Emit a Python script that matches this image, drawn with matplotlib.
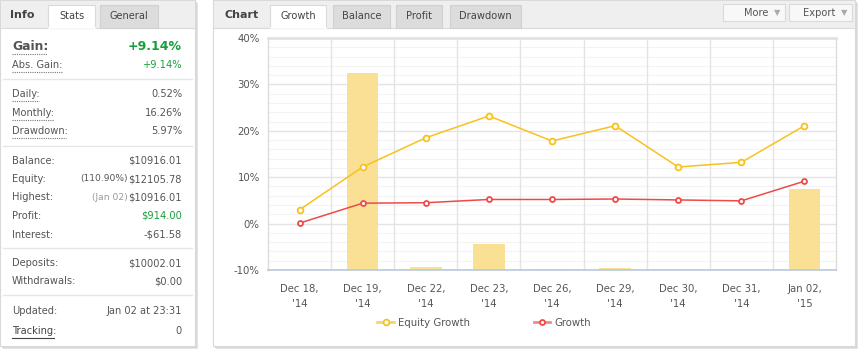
import matplotlib
matplotlib.use("Agg")
import matplotlib.pyplot as plt
from matplotlib.patches import Rectangle
from matplotlib.lines import Line2D
import numpy as np

plt.rcParams['font.family'] = ['DejaVu Sans']

# ---------------- data ----------------
categories = ["Dec 18,\n'14", "Dec 19,\n'14", "Dec 22,\n'14", "Dec 23,\n'14", "Dec 26,\n'14",
              "Dec 29,\n'14", "Dec 30,\n'14", "Dec 31,\n'14", "Jan 02,\n'15"]
equity_growth = [3.0, 12.2, 18.5, 23.2, 17.8, 21.1, 12.2, 13.2, 21.1]
growth = [0.1, 4.4, 4.5, 5.2, 5.2, 5.3, 5.1, 4.9, 9.14]
bar_tops = [-10.0, 32.4, -9.3, -4.3, -9.7, -9.5, -10.0, -10.0, 7.5]
y_ticks = [-10, 0, 10, 20, 30, 40]
y_tick_labels = ["-10%", "0%", "10%", "20%", "30%", "40%"]

stats_rows = [
    ("Daily:", "0.52%"), ("Monthly:", "16.26%"), ("Drawdown:", "5.97%"),
]
money_rows = [
    ("Balance:", "$10916.01"), ("Equity:", "$12105.78"), ("Highest:", "$10916.01"),
    ("Profit:", "$914.00"), ("Interest:", "-$61.58"),
]

W, H = 863, 359
fig = plt.figure(figsize=(W / 100, H / 100), dpi=100, facecolor="white")
bg = fig.add_axes([0, 0, 1, 1])
bg.set_xlim(0, W)
bg.set_ylim(H, 0)
bg.axis("off")

TXT = "#555555"
GREEN = "#16a03a"
FS = 7.1


def rect(x, y, w, h, fc, ec="none", lw=0.8, z=1):
    bg.add_patch(Rectangle((x, y), w, h, facecolor=fc, edgecolor=ec, linewidth=lw, zorder=z))


def hline(x0, x1, y, c, lw=0.8, ls="-", z=3):
    bg.add_line(Line2D([x0, x1], [y, y], color=c, lw=lw, ls=ls, zorder=z))


# ---------- panels with shadows ----------
for (x0, x1) in [(0, 195), (213, 855)]:
    rect(x0 + 3, 3, x1 - x0, 346, "#E4E4E4", z=0)
    rect(x0 + 1.5, 1.5, x1 - x0, 346, "#D8D8D8", z=0.5)
    rect(x0, 0, x1 - x0, 346, "white", ec="#D9D9D9", z=1)
    rect(x0 + 0.5, 0.5, x1 - x0 - 1, 27, "#EFEFEF", z=2)
    hline(x0, x1, 27.5, "#DADADA")

# left tabs
bg.text(10, 15, "Info", fontsize=8.0, fontweight="bold", color="#444444", va="center", zorder=5)
rect(48, 4.5, 47, 23.5, "white", ec="#DADADA", z=3)
hline(48.5, 94.5, 27.5, "white", lw=1.2, z=4)
bg.text(71.5, 16, "Stats", fontsize=FS, color="#444444", ha="center", va="center", zorder=5)
rect(100, 4.5, 58, 23, "#DCDCDC", ec="#D0D0D0", z=3)
bg.text(129, 16, "General", fontsize=FS, color="#444444", ha="center", va="center", zorder=5)

# right tabs
bg.text(224, 15, "Chart", fontsize=8.0, fontweight="bold", color="#444444", va="center", zorder=5)
tabs = [("Growth", 270, 326, True), ("Balance", 333, 390, False),
        ("Profit", 396, 442, False), ("Drawdown", 450, 521, False)]
for name, a, b, active in tabs:
    if active:
        rect(a, 4.5, b - a, 23.5, "white", ec="#DADADA", z=3)
        hline(a + 0.5, b - 0.5, 27.5, "white", lw=1.2, z=4)
    else:
        rect(a, 4.5, b - a, 23, "#DCDCDC", ec="#D0D0D0", z=3)
    bg.text((a + b) / 2, 16, name, fontsize=FS, color="#444444", ha="center", va="center", zorder=5)

for name, a, b in [("More", 723, 785), ("Export", 789, 852)]:
    rect(a, 3.5, b - a, 17, "#F8F8F8", ec="#DADADA", z=3)
    bg.text(b - 17, 12.5, name, fontsize=FS, color="#555555",
            ha="right", va="center", zorder=5)
    bg.text(b - 8, 12.5, "\u25BC", fontsize=6, color="#AAAAAA", ha="center", va="center", zorder=5)

# ---------- left panel stats ----------
RX = 182
bg.text(12, 46, "Gain:", fontsize=8.9, fontweight="bold", color=TXT, va="center", zorder=5)
bg.text(RX, 46, "+9.14%", fontsize=9.0, fontweight="bold", color=GREEN, ha="right", va="center", zorder=5)
hline(12, 47, 53.5, "#777777", lw=0.8, ls=(0, (1, 1)))
bg.text(12, 65, "Abs. Gain:", fontsize=FS, color=TXT, va="center", zorder=5)
bg.text(RX, 65, "+9.14%", fontsize=FS, color=GREEN, ha="right", va="center", zorder=5)
hline(12, 62, 72, "#777777", lw=0.8, ls=(0, (1, 1)))

for yy in [78.5, 145.5, 247.5, 294.5]:
    hline(3, 192, yy, "#E6E6E6", lw=1)

ys = [94, 112.5, 131]
ul = [39, 54, 66]
for (lab, val), yy, u in zip(stats_rows, ys, ul):
    bg.text(12, yy, lab, fontsize=FS, color=TXT, va="center", zorder=5)
    bg.text(RX, yy, val, fontsize=FS, color=TXT, ha="right", va="center", zorder=5)
    hline(12, u, yy + 7, "#777777", lw=0.8, ls=(0, (1, 1)))

ys = [160.5, 179, 197.5, 216, 234.5]
for (lab, val), yy in zip(money_rows, ys):
    bg.text(12, yy, lab, fontsize=FS, color=TXT, va="center", zorder=5)
    bg.text(RX, yy, val, fontsize=FS, color=GREEN if lab == "Profit:" else TXT,
            ha="right", va="center", zorder=5)
bg.text(128, 179, "(110.90%)", fontsize=6.6, color=TXT, ha="right", va="center", zorder=5)
bg.text(128, 197.5, "(Jan 02)", fontsize=6.6, color="#999999", ha="right", va="center", zorder=5)

bg.text(12, 263, "Deposits:", fontsize=FS, color=TXT, va="center", zorder=5)
bg.text(RX, 263, "$10002.01", fontsize=FS, color=TXT, ha="right", va="center", zorder=5)
bg.text(12, 281.5, "Withdrawals:", fontsize=FS, color=TXT, va="center", zorder=5)
bg.text(RX, 281.5, "$0.00", fontsize=FS, color=TXT, ha="right", va="center", zorder=5)
bg.text(12, 311, "Updated:", fontsize=FS, color=TXT, va="center", zorder=5)
bg.text(RX, 311, "Jan 02 at 23:31", fontsize=FS, color=TXT, ha="right", va="center", zorder=5)
bg.text(12, 331, "Tracking:", fontsize=FS, color="#444444", va="center", zorder=5)
hline(12, 54, 337.5, "#444444", lw=0.8)
bg.text(RX, 331, "0", fontsize=FS, color=TXT, ha="right", va="center", zorder=5)

# ---------- chart ----------
L, R, T, B = 268, 836, 38, 270
ax = fig.add_axes([L / W, 1 - B / H, (R - L) / W, (B - T) / H])
ax.set_facecolor("white")
x = np.arange(len(categories))
ax.set_xlim(-0.5, len(categories) - 0.5)
ax.set_ylim(-10, 40)

for v in np.arange(-10, 40.1, 2):
    if v % 10 == 0:
        ax.axhline(v, color="#E4E4E4", lw=1.0, zorder=0)
    else:
        ax.axhline(v, color="#F3F3F3", lw=0.8, zorder=0)
for i in range(1, len(categories)):
    ax.axvline(i - 0.5, color="#E4E4E4", lw=1.0, zorder=0)

heights = [t - (-10) for t in bar_tops]
ax.bar(x, heights, bottom=-10, width=0.5, color="#FAE095", zorder=1)

ax.plot(x, equity_growth, color="#F7C21C", lw=1.1, marker="o", ms=4.2, mfc="white",
        mec="#F7C21C", mew=1.3, zorder=3, label="Equity Growth")
ax.plot(x, growth, color="#EE4A4A", lw=1.1, marker="o", ms=3.6, mfc="white",
        mec="#EE4A4A", mew=1.3, zorder=3, label="Growth")

for s in ["left", "right"]:
    ax.spines[s].set_color("#DDDDDD")
    ax.spines[s].set_linewidth(1)
ax.spines["top"].set_color("#E2E2E2")
ax.spines["top"].set_linewidth(2)
ax.spines["bottom"].set_color("#B8C8DC")
ax.spines["bottom"].set_linewidth(1.2)

ax.set_yticks(y_ticks)
ax.set_yticklabels(y_tick_labels)
ax.set_xticks(x)
ax.set_xticklabels(categories, linespacing=1.6)
ax.tick_params(axis="both", length=0, labelsize=7.3, colors="#555555")
ax.tick_params(axis="y", pad=6)
ax.tick_params(axis="x", pad=10)

h1 = Line2D([], [], color="#FAD56A", lw=2, marker="o", ms=4.2, mfc="white", mec="#F7C21C", mew=1.3)
h2 = Line2D([], [], color="#F28A8A", lw=2, marker="o", ms=3.6, mfc="white", mec="#EE4A4A", mew=1.3)
fig.legend([h1, h2], ["Equity Growth", "Growth"], loc="center",
           bbox_to_anchor=(484 / W, 1 - 322.5 / H), ncol=2, frameon=False,
           fontsize=7.3, labelcolor="#555555", handlelength=1.6, handletextpad=0.4,
           columnspacing=6.3)

fig.savefig("out.png", dpi=100, facecolor="white")
